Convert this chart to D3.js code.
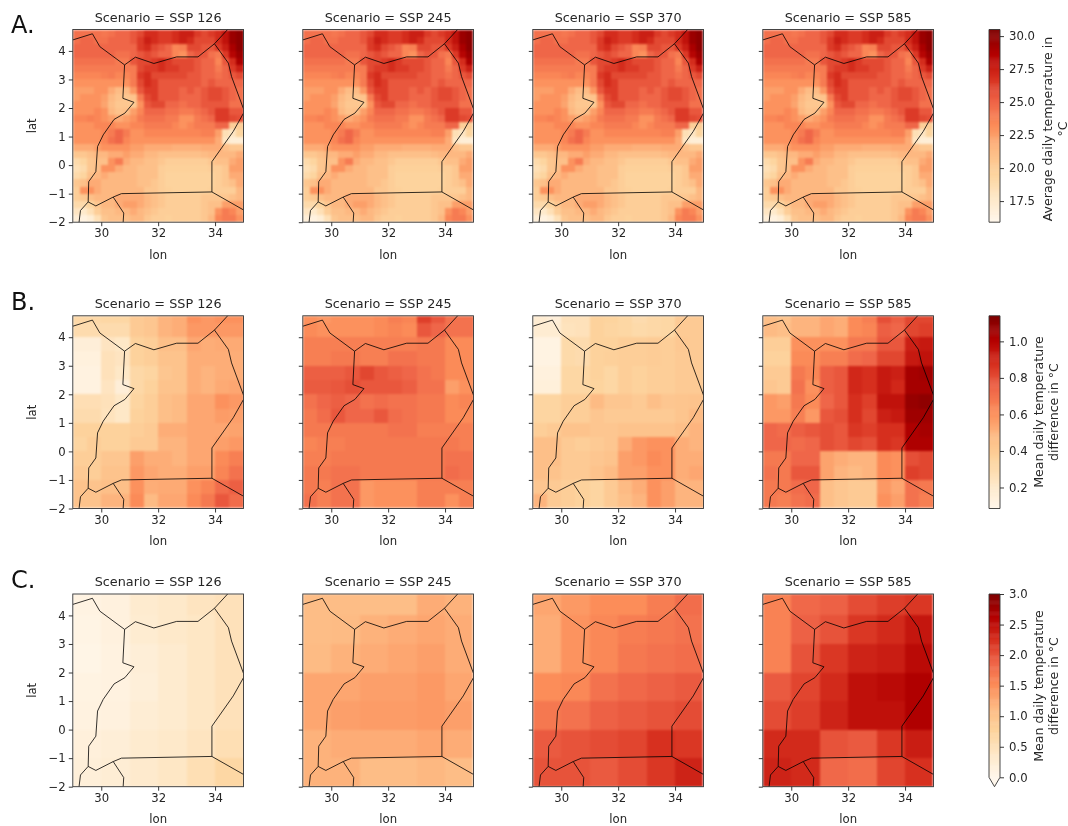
<!DOCTYPE html>
<html>
<head>
<meta charset="utf-8">
<script src="https://cdnjs.cloudflare.com/ajax/libs/d3/7.8.5/d3.min.js"></script>
<style>
  html, body { margin: 0; padding: 0; background: #fff; }
  svg { filter: blur(0.35px); }
  .cells { filter: blur(0.8px); }
  svg text { font-family: "DejaVu Sans", sans-serif; fill: #262626; }
</style>
</head>
<body>
<div id="chart"></div>
<script>
var scenarios = ["SSP 126", "SSP 245", "SSP 370", "SSP 585"]
var rowLetters = ["A.", "B.", "C."]
var lonTicks = [30, 32, 34]
var latTicks = [-2, -1, 0, 1, 2, 3, 4]
var orRd = ["#fff7ec", "#fee8c8", "#fdd49e", "#fdbb84", "#fc8d59", "#ef6548", "#d7301f", "#b30000", "#7f0000"]

// rows run from the northern edge down to lat -2, columns from lon 29 to lon 35
var tempGrid = [
	[24.5,24.5,24.5,24.5,24.2,24.5,25,25,25.5,26,27,27,26.5,26.5,27,27.5,27.5,26.5,26,26.5,27,28,29.5,30],
	[24.5,25,25,24.5,24.5,25,25,25,25.5,26.5,27.5,27,26.5,26.5,27,27.5,27,26,26,26,27,28,29.5,30],
	[25,25,25,25,25,25,25,25,25,26.5,27,26,25.5,25,23.5,23.8,26,26,25.5,25.5,26.5,27.5,29,30],
	[25,25,25,25,25,25,24.5,24.5,25,25.5,26,25.5,25,25,23.5,23,25,25.5,25.5,24.5,24,26.5,28.5,29.5],
	[24.5,24.5,24.5,24.5,24.5,24.5,24,24,25.5,26,26,26.5,27,26.5,26,26,26,25.5,25,25,23.5,25.5,27,29],
	[24,24,24,24,24,24,24,24,24,26,26.5,26.5,27,26.5,26.5,26,26,25.5,25,25,24,25,26.5,27.5],
	[23.5,23.5,23.5,23.5,23.8,24,23.5,23.5,24,26.5,27,26,26,26,26,26,25.5,25.5,25,25,24.5,25,25.5,26],
	[23,23,23,23,23,23,23,23,24,26,27,26.5,25.5,25.5,25.5,25.5,25.5,25.5,25,25.5,25,25,25,25],
	[22.5,22.5,22.5,23,23,22,21.3,21.3,22.8,25.5,26.5,26.5,25.5,25.5,25.5,25,25.5,25,25.5,26,26,25.5,25,24.5],
	[22.5,23,23,23,22.5,21.5,20.8,20.5,20.8,24,26,26.5,25.5,25.5,25.5,25,25,25,25.5,26,26,25.5,25,24.5],
	[23,23,23,23,22.3,21.2,20.5,20.5,20.3,23,25.5,26,26,25,25,24.5,25,25,25.5,25.5,25.5,25.5,24.5,24.5],
	[23,23,23,23.5,23,21.5,20.8,21,22.5,23.5,25,25,25,24.5,24.5,24,24,24.5,25,25.5,26.5,26.5,25.5,25.5],
	[23.5,23.5,23.8,23.5,23,22.5,22,22.5,23,24,24.5,24.5,24.5,24,24,23,23,24,24.5,25,26.5,26.5,26,25.8],
	[23,23,23,23.5,23.5,23.5,23,23,23.5,23.5,24,24,24,24,23.5,23,23.5,24,24,24,25,25,20,20],
	[23,23,23,23,23.5,24,25,24,23,23,23.5,23.5,23.5,23.5,23.5,23.5,23.5,23.5,23.8,23.8,22.5,18.5,18,19.5],
	[23,23,23,23,23.5,24.5,25,23.5,23,23,23,23,23,23,23,23,23,23,23,23,22,18,17,17],
	[22,22,22,22.5,23,23,23,23,22.5,22.5,22,22,22,22,21.8,21.8,21.8,21.8,22,22,22,21,20.5,20.5],
	[20.5,20.5,21,21.5,21.5,22,22,22.5,22,22,21.5,21.5,21,21,21,21,21,21,21.3,21.5,21.5,21.5,21.5,22],
	[19,19.5,20.5,21,21,23,24,22,21.5,21.5,21,21,20.5,20,20,20,20,20,20,20.5,21,21,22,22.5],
	[18.5,19,20.5,21,23,23,22,21.5,21.5,21,21,21,20,19.8,19.8,19.8,19.8,19.8,19.8,20,20,20.5,22.5,22.5],
	[19,19.5,21,21.5,22,21.5,21.5,21.5,21.5,21,21,21,20,19.6,19.6,19.6,19.6,19.6,19.6,19.6,20,20.5,22,22],
	[20.5,21,22,22,21.5,21.5,21.5,21.5,21.5,21,21,20.5,20,19.6,19.6,19.6,19.6,19.6,19.6,19.6,20,20.5,21,22],
	[20,23,23,22,21.5,21.5,21.5,21.5,21.5,21.5,20.5,20.5,20,19.8,19.6,19.6,19.6,19.6,19.6,19.8,20,20,20,21.5],
	[20,20.5,21,21.5,21.5,21.5,22,22,22,22,21.5,21,20.5,20,20,20,20,20,20.5,20.5,20.5,20.5,21,21.5],
	[19,19,19.5,20.5,21.5,21.5,22,22.5,22.5,22,21.5,21,20.5,20,20,20,20,20,20.5,21,21,22.5,22.5,22.5],
	[18,17.5,18.5,20,21,21,21.5,21.5,22,21.5,21,20.5,20,20,20,20,20,20,20.5,21,23,24,23.5,22.5],
	[17,16.5,17,18.5,20.5,21,21,21,21.5,21.5,20.5,20,20,19.8,20,20,20,20,20.5,21.5,23.5,24,24,23]
]

var meanDiff126 = [
	[.32,.32,.33,.33,.40,.42,.50,.52,.60,.58,.60,.60],
	[.30,.30,.30,.30,.40,.42,.50,.52,.58,.58,.58,.58],
	[.16,.16,.24,.22,.36,.38,.46,.46,.54,.52,.53,.53],
	[.14,.14,.26,.24,.36,.38,.44,.44,.52,.52,.52,.52],
	[.13,.13,.26,.22,.32,.34,.42,.44,.52,.50,.52,.52],
	[.13,.13,.24,.16,.32,.36,.44,.44,.52,.50,.53,.54],
	[.28,.28,.26,.22,.34,.38,.46,.48,.54,.54,.60,.58],
	[.30,.30,.25,.22,.36,.38,.46,.48,.54,.54,.57,.56],
	[.36,.36,.36,.36,.38,.40,.52,.52,.54,.54,.54,.55],
	[.34,.38,.36,.36,.40,.40,.50,.50,.54,.54,.56,.58],
	[.38,.38,.42,.42,.56,.52,.52,.50,.54,.54,.62,.66],
	[.40,.38,.44,.44,.58,.54,.52,.52,.56,.56,.64,.70],
	[.44,.44,.46,.46,.60,.52,.53,.53,.60,.64,.72,.76],
	[.44,.44,.50,.50,.62,.48,.54,.54,.62,.68,.78,.72]
]
var meanDiff245 = [
	[.60,.58,.60,.60,.60,.62,.66,.64,.84,.78,.70,.70],
	[.62,.60,.60,.60,.60,.62,.64,.62,.78,.74,.70,.70],
	[.66,.66,.66,.66,.66,.66,.66,.66,.68,.68,.62,.62],
	[.66,.66,.68,.68,.66,.66,.70,.70,.68,.68,.62,.62],
	[.76,.76,.76,.78,.82,.78,.76,.74,.70,.68,.62,.62],
	[.77,.77,.78,.80,.78,.78,.78,.76,.70,.70,.56,.60],
	[.70,.74,.76,.74,.70,.72,.70,.70,.68,.68,.62,.64],
	[.68,.72,.78,.74,.74,.78,.72,.70,.68,.68,.62,.62],
	[.68,.68,.68,.68,.68,.68,.70,.70,.66,.66,.66,.66],
	[.64,.66,.66,.68,.68,.68,.68,.68,.68,.68,.68,.66],
	[.66,.66,.68,.68,.68,.68,.68,.68,.68,.68,.70,.70],
	[.68,.68,.70,.70,.68,.68,.68,.68,.68,.68,.72,.70],
	[.68,.66,.70,.70,.58,.60,.60,.60,.66,.66,.66,.66],
	[.70,.66,.70,.70,.58,.60,.60,.60,.66,.66,.60,.66]
]
var meanDiff370 = [
	[.18,.16,.26,.26,.36,.35,.33,.30,.32,.33,.40,.40],
	[.18,.18,.25,.26,.36,.34,.33,.31,.32,.33,.40,.40],
	[.12,.12,.31,.30,.36,.36,.38,.38,.39,.38,.41,.40],
	[.12,.12,.31,.30,.36,.37,.38,.38,.39,.38,.40,.40],
	[.14,.14,.33,.33,.36,.33,.38,.36,.38,.38,.40,.40],
	[.15,.15,.33,.33,.35,.33,.38,.36,.38,.38,.40,.40],
	[.34,.34,.38,.38,.48,.42,.42,.40,.46,.42,.43,.44],
	[.34,.34,.38,.38,.42,.40,.40,.40,.40,.40,.43,.48],
	[.38,.40,.44,.44,.42,.42,.44,.44,.44,.44,.46,.50],
	[.46,.46,.40,.38,.40,.42,.52,.58,.60,.60,.52,.50],
	[.46,.46,.40,.40,.42,.44,.56,.58,.62,.60,.52,.52],
	[.46,.44,.40,.40,.44,.48,.56,.56,.60,.60,.52,.54],
	[.42,.40,.38,.36,.34,.40,.48,.52,.60,.56,.50,.50],
	[.50,.40,.38,.36,.34,.40,.46,.50,.60,.56,.50,.50]
]
var meanDiff585 = [
	[.46,.44,.50,.50,.54,.52,.62,.66,.80,.76,.82,.82],
	[.48,.46,.50,.50,.54,.52,.62,.64,.76,.74,.82,.84],
	[.38,.38,.60,.60,.60,.60,.68,.68,.78,.78,.92,.94],
	[.36,.36,.62,.62,.66,.66,.72,.74,.82,.82,.94,.96],
	[.40,.40,.68,.64,.76,.78,.90,.88,.94,.92,1.04,1.06],
	[.42,.40,.70,.60,.76,.78,.90,.88,.94,.90,1.04,1.04],
	[.58,.56,.68,.62,.74,.78,.88,.84,.96,.96,1.08,1.10],
	[.58,.58,.66,.58,.78,.80,.88,.82,.92,.94,1.06,1.06],
	[.74,.72,.76,.78,.80,.78,.86,.84,.88,.88,1.02,1.04],
	[.74,.74,.72,.74,.80,.78,.82,.80,.88,.86,1.02,1.02],
	[.68,.68,.74,.74,.55,.52,.50,.50,.62,.60,.80,.82],
	[.70,.68,.78,.78,.55,.50,.48,.50,.62,.60,.84,.82],
	[.68,.68,.72,.74,.46,.42,.40,.40,.58,.54,.70,.68],
	[.68,.66,.70,.72,.46,.42,.40,.40,.60,.56,.70,.66]
]

var maxDiff126 = [
	[.10,.15,.30,.35,.45,.50],
	[.08,.15,.28,.35,.40,.50],
	[.06,.12,.22,.30,.40,.50],
	[.10,.12,.20,.30,.40,.50],
	[.12,.15,.25,.30,.40,.50],
	[.18,.22,.30,.35,.45,.55],
	[.20,.25,.32,.40,.55,.70]
]
var maxDiff245 = [
	[1.1,1.1,1.08,1.08,1.25,1.2],
	[1.1,1.12,1.2,1.25,1.3,1.25],
	[1.12,1.2,1.25,1.3,1.35,1.25],
	[1.3,1.3,1.35,1.35,1.4,1.3],
	[1.3,1.35,1.38,1.38,1.4,1.35],
	[1.2,1.25,1.25,1.25,1.3,1.25],
	[1.2,1.2,1.1,1.1,1.15,1.1]
]
var maxDiff370 = [
	[1.3,1.4,1.5,1.5,1.65,1.8],
	[1.25,1.45,1.55,1.65,1.7,1.75],
	[1.25,1.45,1.55,1.7,1.75,1.8],
	[1.5,1.55,1.75,1.85,1.9,1.95],
	[1.7,1.75,1.9,1.95,2.0,2.05],
	[1.95,2.0,2.05,2.1,2.25,2.2],
	[2.0,2.0,1.95,2.05,2.2,2.35]
]
var maxDiff585 = [
	[1.6,1.85,1.9,2.05,2.15,2.2],
	[1.6,1.9,2.0,2.2,2.3,2.45],
	[1.6,2.0,2.2,2.35,2.4,2.55],
	[1.95,2.1,2.3,2.5,2.55,2.65],
	[2.05,2.15,2.35,2.5,2.5,2.65],
	[2.3,2.3,2.0,1.95,2.2,2.4],
	[2.35,2.3,1.85,1.8,2.1,2.25]
]

var tempTicks = [17.5, 20, 22.5, 25, 27.5, 30]
var meanTicks = [0.2, 0.4, 0.6, 0.8, 1.0]
var maxTicks = [0, 0.5, 1, 1.5, 2, 2.5, 3]

// [lon, lat] of the country borders
var borders = [
	[[29,4.385],[29.69,4.6],[29.95,4.15],[30.82,3.51],[31.2,3.78],[31.85,3.56],[32.65,3.79],[33.4,3.79],[33.98,4.25],[34.47,4.78]],
	[[33.98,4.25],[34.47,3.57],[34.58,3.1],[35,1.97]],
	[[35,1.82],[34.64,1.18],[33.89,0.12],[33.89,-0.94],[35,-1.57]],
	[[33.89,-0.94],[30.71,-1.0],[30.42,-1.12],[29.81,-1.43],[29.54,-1.29],[29.27,-1.59],[29.22,-2]],
	[[30.42,-1.12],[30.79,-1.68],[30.77,-2]],
	[[30.82,3.51],[30.76,2.34],[31.15,2.2],[30.83,1.82],[30.45,1.6],[30.07,1.06],[29.87,0.65],[29.81,-0.23],[29.56,-0.58],[29.54,-1.29]]
]

var rows = [
	{ letter: 0, letterY: 32.5, top: 29.5, grids: [tempGrid, tempGrid, tempGrid, tempGrid], domain: [15.9, 30.5], ticks: tempTicks, fmt: ".1f",
		label: ["Average daily temperature in", "°C"], labelX: [1051.5, 1066.5], labelY: 129, extend: false },
	{ letter: 1, letterY: 309.5, top: 315.8, grids: [meanDiff126, meanDiff245, meanDiff370, meanDiff585], domain: [0.085, 1.14], ticks: meanTicks, fmt: ".1f",
		label: ["Mean daily temperature", "difference in °C"], labelX: [1042.5, 1057.5], labelY: 412, extend: false },
	{ letter: 2, letterY: 588, top: 594, grids: [maxDiff126, maxDiff245, maxDiff370, maxDiff585], domain: [0, 3], ticks: maxTicks, fmt: ".1f",
		label: ["Mean daily temperature", "difference in °C"], labelX: [1042.5, 1057.5], labelY: 686, extend: true }
]

var panelW = 170.7, panelH = 192.7
var panelX = [72.8, 302.8, 532.8, 762.8]
var barX = 989, barW = 11

var svg = d3.select("#chart").append("svg").attr("width", 1068).attr("height", 826)
	.style("display", "block")

var x = d3.scaleLinear().domain([29, 35]).range([0, panelW])
var y = d3.scaleLinear().domain([-2, 4.75]).range([panelH, 0])
var line = d3.line().x(function(d){ return x(d[0]) }).y(function(d){ return y(d[1]) })

function stops(domain){
	return orRd.map(function(c, i){ return domain[0] + (domain[1] - domain[0]) * i / (orRd.length - 1) })
}

function drawPanel(row, grid, k){
	var color = d3.scaleLinear().domain(stops(row.domain)).range(orRd).clamp(true)
	var g = svg.append("g").attr("transform", "translate(" + panelX[k] + "," + row.top + ")")

	var clipId = "clip" + row.letter + k
	g.append("clipPath").attr("id", clipId).append("rect")
		.attr("width", panelW).attr("height", panelH)

	// cell size follows the grid: 24 columns is 0.25 deg, 12 is 0.5 deg, 6 is 1 deg
	var step = 6 / grid[0].length
	var cells = g.append("g").attr("clip-path", "url(#" + clipId + ")").append("g").attr("class", "cells")
	grid.forEach(function(values, i){
		var south = -2 + (grid.length - 1 - i) * step
		var north = Math.min(south + step, 4.75)
		cells.append("g").selectAll("rect").data(values).enter().append("rect")
			.attr("x", function(d, j){ return x(29 + j * step) })
			.attr("y", y(north))
			.attr("width", x(29 + step) - x(29))
			.attr("height", y(south) - y(north))
			.attr("fill", function(d){ return color(d) })
			.attr("shape-rendering", "crispEdges")
	})

	g.append("g").attr("clip-path", "url(#" + clipId + ")").selectAll("path").data(borders).enter()
		.append("path").attr("d", line).attr("fill", "none")
		.attr("stroke", "#000").attr("stroke-opacity", 0.8).attr("stroke-width", 1)

	g.append("rect").attr("width", panelW).attr("height", panelH)
		.attr("fill", "none").attr("stroke", "#333").attr("stroke-width", 0.9)

	var xAxis = g.append("g").attr("transform", "translate(0," + panelH + ")")
		.call(d3.axisBottom(x).tickValues(lonTicks).tickSize(4).tickPadding(3).tickFormat(d3.format("d")))
	var yAxis = g.append("g")
		.call(d3.axisLeft(y).tickValues(latTicks).tickSize(4).tickPadding(3)
			.tickFormat(k == 0 ? d3.format("d") : ""))
	xAxis.select(".domain").remove()
	yAxis.select(".domain").remove()
	g.selectAll(".tick text").style("font-size", "11.7px")
	g.selectAll(".tick line").attr("stroke", "#222").attr("stroke-width", 0.9)

	g.append("text").attr("x", panelW / 2).attr("y", -8).attr("text-anchor", "middle")
		.style("font-size", "12.8px").text("Scenario = " + scenarios[k])
	g.append("text").attr("x", panelW / 2).attr("y", panelH + 36.5).attr("text-anchor", "middle")
		.style("font-size", "11.7px").text("lon")
	if (k == 0){
		g.append("text").attr("transform", "translate(-37," + panelH / 2 + ") rotate(-90)")
			.attr("text-anchor", "middle").style("font-size", "11.7px").text("lat")
	}
}

function drawColorbar(row){
	var color = d3.scaleLinear().domain(stops(row.domain)).range(orRd)
	var bar = d3.scaleLinear().domain(row.domain).range([row.top + (row.extend ? panelH - 9.4 : panelH), row.top])
	var g = svg.append("g")
	var n = 200
	var dv = (row.domain[1] - row.domain[0]) / n
	g.selectAll("rect").data(d3.range(n)).enter().append("rect")
		.attr("x", barX).attr("width", barW)
		.attr("y", function(i){ return bar(row.domain[0] + (i + 1) * dv) })
		.attr("height", function(i){ return bar(row.domain[0] + i * dv) - bar(row.domain[0] + (i + 1) * dv) + 0.5 })
		.attr("fill", function(i){ return color(row.domain[0] + (i + 0.5) * dv) })
	var b0 = bar(row.domain[0]), b1 = bar(row.domain[1])
	var outline = [[barX, b0], [barX, b1], [barX + barW, b1], [barX + barW, b0]]
	if (row.extend){
		outline.push([barX + barW / 2, b0 + 9.4])
		g.append("path").attr("d", "M" + [[barX, b0], [barX + barW, b0], [barX + barW / 2, b0 + 9.4]].join("L") + "Z")
			.attr("fill", orRd[0])
	}
	g.append("path").attr("d", "M" + outline.join("L") + "Z").attr("fill", "none")
		.attr("stroke", "#333").attr("stroke-width", 0.9)

	var axis = g.append("g").attr("transform", "translate(" + (barX + barW) + ",0)")
		.call(d3.axisRight(bar).tickValues(row.ticks).tickSize(4).tickPadding(5).tickFormat(d3.format(row.fmt)))
	axis.select(".domain").remove()
	axis.selectAll("text").style("font-size", "11.7px")
	axis.selectAll("line").attr("stroke", "#222").attr("stroke-width", 0.9)

	row.label.forEach(function(t, i){
		g.append("text").attr("transform", "translate(" + row.labelX[i] + "," + row.labelY + ") rotate(-90)")
			.attr("text-anchor", "middle").style("font-size", "12.6px").text(t)
	})
}

rows.forEach(function(row){
	row.grids.forEach(function(grid, k){ drawPanel(row, grid, k) })
	drawColorbar(row)
	svg.append("text").attr("x", 11).attr("y", row.letterY).style("font-size", "24px")
		.style("fill", "#111").text(rowLetters[row.letter])
})
</script>
</body>
</html>
